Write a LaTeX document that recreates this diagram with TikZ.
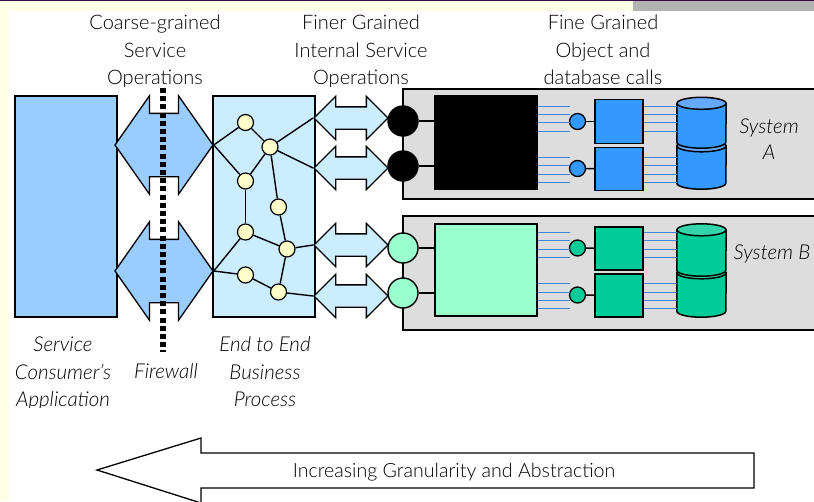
\documentclass[tikz,border=0pt]{standalone}
\usepackage{fontspec}
\setmainfont{Lato Light}
\usetikzlibrary{shapes.arrows}
\definecolor{paleyellow}{HTML}{FFFFE6}
\definecolor{plum}{HTML}{3C0A46}
\definecolor{topgray}{HTML}{B2B2B2}
\definecolor{sysgray}{HTML}{DDDDDD}
\definecolor{appblue}{HTML}{99CCFF}
\definecolor{procblue}{HTML}{CCECFF}
\definecolor{stepyellow}{HTML}{FFFFCC}
\definecolor{mint}{HTML}{99FFCC}
\definecolor{objblue}{HTML}{3399FF}
\definecolor{objgreen}{HTML}{00CC99}
\definecolor{capblue}{HTML}{66AAFF}
\definecolor{capgreen}{HTML}{33D6AA}
\definecolor{wireblue}{HTML}{3D85D8}
% one drum of a database stack: node name, body colour, cap colour
\newcommand{\drumpart}[3]{
	\draw[drumline, fill = #2] (#1.north west) -- (#1.south west)
		arc[start angle = 180, end angle = 360, x radius = 24.5pt, y radius = 6pt]
		-- (#1.north east) -- cycle;
	\draw[drumline, fill = #3] (#1.north) ellipse[x radius = 24.5pt, y radius = 6pt];
}
\begin{document}
\begin{tikzpicture}[x=1pt,y=-1pt]
		\tikzset{heading/.style={font=\fontsize{20}{20}\selectfont, inner sep=0pt, anchor=base}}
		\tikzset{slabel/.style={heading, font=\fontsize{20.5}{20}\selectfont\itshape}}
		\tikzset{box/.style={shape = rectangle, draw, line width = 1.7pt, inner sep = 0pt}}
		\tikzset{stepnode/.style={shape = circle, draw, line width = 1.2pt, fill = stepyellow, minimum size = 16pt, inner sep = 0pt}}
		\tikzset{port/.style={shape = circle, draw, line width = 1.4pt, minimum size = 30pt, inner sep = 0pt}}
		\tikzset{call/.style={shape = circle, draw, line width = 1.3pt, minimum size = 16pt, inner sep = 0pt}}
		\tikzset{coarse/.style={shape = double arrow, draw, line width = 1.3pt, fill = appblue, minimum height = 98pt, inner xsep = 0pt, inner ysep = 31pt, double arrow head extend = 17.5pt, double arrow tip angle = 110}}
		\tikzset{finer/.style={shape = double arrow, draw, line width = 1.3pt, fill = procblue, minimum height = 74pt, inner xsep = 0pt, inner ysep = 10.5pt, double arrow head extend = 10.5pt, double arrow tip angle = 90}}
		\tikzset{link/.style={line width = 1.4pt}}
		\tikzset{wire/.style={line width = 1pt, wireblue}}
		\tikzset{drumline/.style={line width = 1.5pt}}
		\tikzset{drum/.style={shape = rectangle, inner sep = 0pt, minimum width = 49pt}}
		%page
		\useasboundingbox (0,0) rectangle (814,501);
		\fill[white] (0,0) rectangle (814,501);
		\fill[paleyellow] (0,0) rectangle (9,501);
		\fill[paleyellow] (0,0) rectangle (633,11);
		\fill[topgray] (633,0) rectangle (814,11);
		\fill[plum] (0,0) rectangle (814,1);
		%headings
		\node[heading] (t1) at (155,29.5) {Coarse-grained};
		\node[heading] (t2) at (155,57) {Service};
		\node[heading] (t3) at (155,84.5) {Operations};
		\node[heading] (t4) at (361,29.5) {Finer Grained};
		\node[heading] (t5) at (361,57) {Internal Service};
		\node[heading] (t6) at (361,84.5) {Operations};
		\node[heading] (t7) at (603,29.5) {Fine Grained};
		\node[heading] (t8) at (603,57) {Object and};
		\node[heading] (t9) at (603,84.5) {database calls};
		\node[slabel] (c1) at (63,351.5) {Service};
		\node[slabel] (c2) at (63,379) {Consumer's};
		\node[slabel] (c3) at (63,406) {Application};
		\node[slabel] (fw) at (166,378) {Firewall};
		\node[slabel] (e1) at (265,351.5) {End to End};
		\node[slabel] (e2) at (265,379) {Business};
		\node[slabel] (e3) at (265,406) {Process};
		\fill[white] (95,86.5) rectangle (420,96);
		\fill[white] (10,408) rectangle (120,416);
		%consumer and process
		\node[box, fill = appblue, minimum width = 102pt, minimum height = 221pt] (app) at (66,206.5) {};
		\node[box, fill = procblue, minimum width = 102pt, minimum height = 221pt] (proc) at (264,206.5) {};
		\node[coarse] (ca1) at (164,145) {};
		\node[coarse] (ca2) at (164,271) {};
		\draw[line width = 5.5pt, dash pattern = on 5pt off 3.2pt] (163,88) -- (163,352);
		%systems
		\node[box, fill = sysgray, minimum width = 420pt, minimum height = 110pt, anchor = north west] (sysA) at (402,88) {};
		\node[box, fill = sysgray, minimum width = 420pt, minimum height = 114pt, anchor = north west] (sysB) at (402,215) {};
		\node[finer] (fa1) at (351,118) {};
		\node[finer] (fa2) at (351,168) {};
		\node[finer] (fa3) at (351,245) {};
		\node[finer] (fa4) at (351,296) {};
		\node[port, fill = black] (pa1) at (403,121) {};
		\node[port, fill = black] (pa2) at (403,166) {};
		\node[port, fill = mint] (pb1) at (403,248) {};
		\node[port, fill = mint] (pb2) at (403,293) {};
		\node[box, fill = black, minimum width = 102pt, minimum height = 93pt] (bigA) at (486,142.5) {};
		\node[box, fill = mint, minimum width = 102pt, minimum height = 92pt] (bigB) at (486,270) {};
		\node[call, fill = objblue] (ca) at (577.5,121.5) {};
		\node[call, fill = objblue] (cb) at (577.5,168.5) {};
		\node[call, fill = objgreen] (cc) at (577.5,248) {};
		\node[call, fill = objgreen] (cd) at (577.5,295) {};
		\node[box, fill = objblue, minimum width = 48pt, minimum height = 44pt] (oa) at (619,121.5) {};
		\node[box, fill = objblue, minimum width = 48pt, minimum height = 43pt] (ob) at (619,169) {};
		\node[box, fill = objgreen, minimum width = 48pt, minimum height = 43pt] (oc) at (619,248.5) {};
		\node[box, fill = objgreen, minimum width = 48pt, minimum height = 43pt] (od) at (619,295.5) {};
		%database stacks
		\node[drum, minimum height = 37pt] (da2) at (701.5,164.5) {};
		\node[drum, minimum height = 38.5pt] (da1) at (701.5,122.75) {};
		\node[drum, minimum height = 38pt] (db2) at (701.5,292) {};
		\node[drum, minimum height = 40pt] (db1) at (701.5,250) {};
		\drumpart{da2}{objblue}{capblue}
		\drumpart{da1}{objblue}{capblue}
		\drumpart{db2}{objgreen}{capgreen}
		\drumpart{db1}{objgreen}{capgreen}
		\node[slabel] (s1) at (769,133) {System};
		\node[slabel] (s2) at (769,159) {A};
		\node[slabel] (s3) at (772,259) {System B};
		%steps
		\node[stepnode] (a) at (245.5,122.5) {};
		\node[stepnode] (b) at (270,147) {};
		\node[stepnode] (c) at (245.5,181) {};
		\node[stepnode] (d) at (278.5,207) {};
		\node[stepnode] (e) at (245.5,232) {};
		\node[stepnode] (f) at (287,249) {};
		\node[stepnode] (g) at (245.5,275) {};
		\node[stepnode] (h) at (278.5,292) {};
		%edges
		\draw[link] (ca1.east) -- (a);
		\draw[link] (ca1.east) -- (c);
		\draw[link] (a) -- (b);
		\draw[link] (c) -- (b);
		\draw[link] (b) -- (fa1.west);
		\draw[link] (b) -- (fa2.west);
		\draw[link] (b) -- (d);
		\draw[link] (d) -- (f);
		\draw[link] (c) -- (e);
		\draw[link] (e) -- (f);
		\draw[link] (ca2.east) -- (e);
		\draw[link] (ca2.east) -- (g);
		\draw[link] (g) -- (h);
		\draw[link] (f) -- (h);
		\draw[link] (f) -- (fa3.west);
		\draw[link] (h) -- (fa4.west);
		\draw[link] (pa1) -- (pa1 -| bigA.west);
		\draw[link] (pa2) -- (pa2 -| bigA.west);
		\draw[link] (pb1) -- (pb1 -| bigB.west);
		\draw[link] (pb2) -- (pb2 -| bigB.west);
		\draw[link] (ca) -- (oa);
		\draw[link] (cb) -- (ob);
		\draw[link] (cc) -- (oc);
		\draw[link] (cd) -- (od);
		%wires
		\foreach \y in {106,114,122,131}
			\draw[wire] (bigA.east |- 0,\y) -- (570,\y) (oa.east |- 0,\y) -- (da1.west |- 0,\y);
		\foreach \y in {157,165,174,182}
			\draw[wire] (bigA.east |- 0,\y) -- (570,\y) (ob.east |- 0,\y) -- (da2.west |- 0,\y);
		\foreach \y in {232,240,249,257}
			\draw[wire] (bigB.east |- 0,\y) -- (570,\y) (oc.east |- 0,\y) -- (db1.west |- 0,\y);
		\foreach \y in {283,292,300,308}
			\draw[wire] (bigB.east |- 0,\y) -- (570,\y) (od.east |- 0,\y) -- (db2.west |- 0,\y);
		%granularity arrow
		\draw[line width = 1.3pt] (754,453) -- (201,453) -- (201,438) -- (97,470) -- (201,503) -- (201,488) -- (754,488) -- cycle;
		\node[heading, font=\fontsize{19.6}{18}\selectfont] (gran) at (454,477) {Increasing Granularity and Abstraction};
\end{tikzpicture}
\end{document}
